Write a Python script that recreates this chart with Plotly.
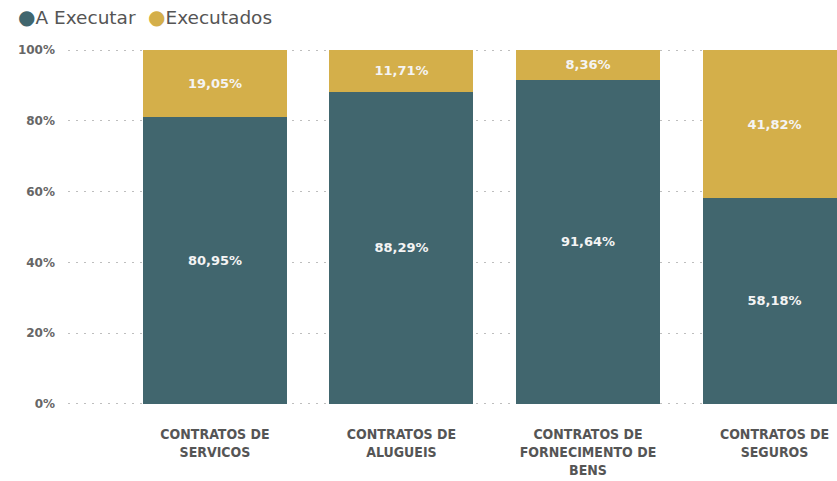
import plotly.graph_objects as go

categories = ["CONTRATOS DE<br>SERVICOS", "CONTRATOS DE<br>ALUGUEIS",
              "CONTRATOS DE<br>FORNECIMENTO DE<br>BENS", "CONTRATOS DE<br>SEGUROS"]
a_executar = [80.95, 88.29, 91.64, 58.18]
executados = [19.05, 11.71, 8.36, 41.82]
y_ticks = [0, 20, 40, 60, 80, 100]
y_tick_labels = ["0%", "20%", "40%", "60%", "80%", "100%"]
series_names = ["A Executar", "Executados"]

teal = "#41666E"
gold = "#D4AF4A"

def fmt(v):
    return f"{v:.2f}%".replace(".", ",")

fig = go.Figure()
for name, vals, col in [(series_names[0], a_executar, teal), (series_names[1], executados, gold)]:
    fig.add_trace(go.Bar(
        x=categories, y=vals, name=name, marker_color=col,
        marker_line_width=0, showlegend=False,
        text=[fmt(v) for v in vals], textposition="inside", insidetextanchor="middle",
        textfont=dict(color="#F4F4F4", size=13, family="DejaVu Sans", weight="bold"),
        width=0.772, cliponaxis=True, hoverinfo="skip",
    ))
# legend entries: circle glyph drawn in series colour as part of the label
for i, (name, col) in enumerate([(series_names[0], teal), (series_names[1], gold)]):
    fig.add_trace(go.Scatter(
        x=[None], y=[None], mode="markers",
        name=f"<span style='color:{col};font-size:20px'>●</span>{name}",
        marker=dict(symbol="circle", size=1, color="rgba(0,0,0,0)"),
        legend="legend" if i == 0 else "legend2",
    ))

legend_common = dict(orientation="h", yref="paper", xref="paper", y=1.1432,
                     xanchor="left", yanchor="top", itemwidth=30,
                     bgcolor="rgba(0,0,0,0)",
                     font=dict(family="DejaVu Sans", size=18.5, color="#555555"))

fig.update_layout(
    barmode="stack",
    width=837, height=481,
    margin=dict(l=68, r=0, t=49, b=76, autoexpand=False),
    plot_bgcolor="white", paper_bgcolor="white",
    uniformtext=dict(mode="show", minsize=10),
    showlegend=True,
    legend=dict(x=-0.1170, **legend_common),
    legend2=dict(x=0.0520, **legend_common),
    font=dict(family="DejaVu Sans"),
)
fig.update_xaxes(
    range=[-0.788, 3.335], showgrid=False, zeroline=False, showline=False,
    tickfont=dict(family="DejaVu Sans Condensed, DejaVu Sans",
                  size=14, color="#555555", weight="bold"),
    ticks="", ticklabelstandoff=19, automargin=False,
)
fig.update_yaxes(
    range=[-0.3, 100.3], tickvals=y_ticks, ticktext=y_tick_labels,
    showgrid=True, gridcolor="#BEBEBE", griddash="2px,6px", gridwidth=1,
    zeroline=False, showline=False,
    tickfont=dict(family="DejaVu Sans", size=12, color="#666666", weight="bold"),
    ticks="", ticklabelstandoff=12, automargin=False,
)

fig.write_html(
    "out.html",
    config={"displayModeBar": False},
    post_script="document.body.style.margin='0';document.body.style.overflow='hidden';",
)
